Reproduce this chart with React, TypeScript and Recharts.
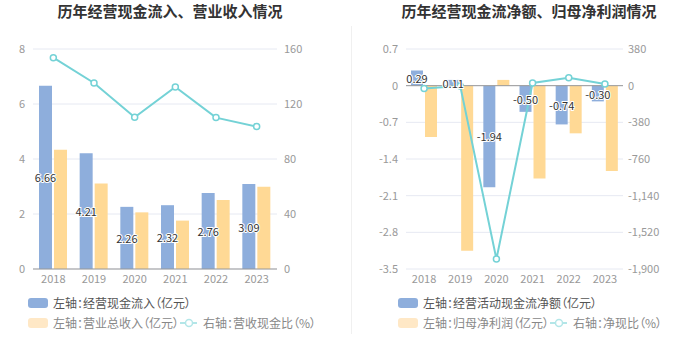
import React from "react";
import {
  ComposedChart,
  Bar,
  Line,
  XAxis,
  YAxis,
  CartesianGrid,
  ReferenceLine,
  LabelList,
} from "recharts";

const years = ["2018", "2019", "2020", "2021", "2022", "2023"];

// left chart
const cashInflow = [6.66, 4.21, 2.26, 2.32, 2.76, 3.09];
const revenue = [4.34, 3.11, 2.06, 1.76, 2.51, 2.99];
const cashRevenueRatio = [153.7, 135.3, 110.4, 132.4, 110.1, 103.6];

// right chart
const netCashFlow = [0.29, 0.11, -1.94, -0.5, -0.74, -0.3];
const netProfit = [-0.98, -3.15, 0.11, -1.77, -0.91, -1.63];
const netCashRatio = [-30, -3, -1797, 28, 81, 18];

const leftTicks = [0, 2, 4, 6, 8];
const leftRightTicks = [0, 40, 80, 120, 160];
const rightTicks = [-3.5, -2.8, -2.1, -1.4, -0.7, 0, 0.7];
const rightRightTicks = [-1900, -1520, -1140, -760, -380, 0, 380];

const BLUE = "#8eaedc";
const ORANGE = "#ffd995";
const TEAL = "#74d2d6";
const FONT = '"Noto Sans CJK SC", "Noto Sans", sans-serif';

const leftData = years.map((y, i) => ({
  year: y,
  inflow: cashInflow[i],
  revenue: revenue[i],
  ratio: cashRevenueRatio[i],
}));

const rightData = years.map((y, i) => ({
  year: y,
  net: netCashFlow[i],
  profit: netProfit[i],
  ratio: netCashRatio[i],
}));

const tickStyle = { fill: "#999", fontSize: 11, fontFamily: FONT };

function ValueLabel(props: any) {
  const { x, y, width, height, value } = props;
  return (
    <text
      x={x + width / 2}
      y={y + height / 2}
      textAnchor="middle"
      dominantBaseline="central"
      fill="#333"
      stroke="#fff"
      strokeWidth={2}
      paintOrder="stroke"
      fontSize={11}
      fontFamily={FONT}
    >
      {Number(value).toFixed(2)}
    </text>
  );
}

const dot = { r: 3, fill: "#fff", stroke: TEAL, strokeWidth: 1.5 };

function Title({ text, cx }: { text: string; cx: number }) {
  return (
    <div
      style={{
        position: "absolute",
        top: 2,
        left: cx - 150,
        width: 300,
        textAlign: "center",
        fontSize: 15,
        fontWeight: "bold",
        color: "#333",
        fontFamily: FONT,
        lineHeight: "18px",
      }}
    >
      {text}
    </div>
  );
}

const legendText = {
  position: "absolute" as const,
  fontSize: 12,
  lineHeight: "14px",
  fontFamily: FONT,
  fontFeatureSettings: '"palt"',
  whiteSpace: "nowrap" as const,
};

function Swatch({ x, y, color, label, textColor }: any) {
  return (
    <>
      <div
        style={{
          position: "absolute",
          left: x,
          top: y,
          width: 20,
          height: 10,
          borderRadius: 3,
          background: color,
        }}
      />
      <div style={{ ...legendText, left: x + 25, top: y - 2, color: textColor }}>
        {label}
      </div>
    </>
  );
}

function LineKey({ x, y, label }: any) {
  return (
    <>
      <svg
        style={{ position: "absolute", left: x, top: y - 5 }}
        width={18}
        height={10}
      >
        <line x1={0} y1={5} x2={17} y2={5} stroke="#b3e6e8" strokeWidth={2} />
        <circle cx={9} cy={5} r={3.5} fill="#fff" stroke="#b3e6e8" strokeWidth={1.5} />
      </svg>
      <div style={{ ...legendText, left: x + 23, top: y - 7, color: "#888" }}>
        {label}
      </div>
    </>
  );
}

export default function App() {
  return (
    <div
      style={{
        position: "absolute",
        left: 0,
        top: 0,
        width: 700,
        height: 360,
        background: "#fff",
        overflow: "hidden",
      }}
    >
      <Title text="历年经营现金流入、营业收入情况" cx={170} />
      <Title text="历年经营现金流净额、归母净利润情况" cx={529} />

      <div
        style={{
          position: "absolute",
          left: 351,
          top: 26,
          width: 1,
          height: 308,
          background: "#f0f0f0",
        }}
      />

      <div style={{ position: "absolute", left: 0, top: 0 }}>
        <ComposedChart
          width={350}
          height={290}
          data={leftData}
          margin={{ top: 49, right: 0, bottom: 0, left: 0 }}
          barGap={2}
        >
          <CartesianGrid vertical={false} stroke="#e6e9f2" yAxisId="left" />
          <XAxis
            dataKey="year"
            height={21}
            tickLine={false}
            axisLine={{ stroke: "#999" }}
            tick={tickStyle}
            tickSize={0}
            tickMargin={6}
          />
          <YAxis
            yAxisId="left"
            width={33}
            domain={[0, 8]}
            ticks={leftTicks}
            axisLine={false}
            tickLine={false}
            tickSize={0}
            tickMargin={8}
            tick={tickStyle}
          />
          <YAxis
            yAxisId="right"
            orientation="right"
            width={73}
            domain={[0, 160]}
            ticks={leftRightTicks}
            axisLine={false}
            tickLine={false}
            tickSize={0}
            tickMargin={7}
            tick={tickStyle}
          />
          <Bar
            yAxisId="left"
            dataKey="inflow"
            fill={BLUE}
            barSize={13}
            isAnimationActive={false}
          >
            <LabelList dataKey="inflow" content={ValueLabel} />
          </Bar>
          <Bar
            yAxisId="left"
            dataKey="revenue"
            fill={ORANGE}
            barSize={13}
            isAnimationActive={false}
          />
          <Line
            yAxisId="right"
            dataKey="ratio"
            stroke={TEAL}
            strokeWidth={2}
            dot={dot}
            isAnimationActive={false}
          />
        </ComposedChart>
      </div>

      <div style={{ position: "absolute", left: 352, top: 0 }}>
        <ComposedChart
          width={348}
          height={290}
          data={rightData}
          margin={{ top: 49, right: 0, bottom: 0, left: 0 }}
          barGap={2}
        >
          <CartesianGrid vertical={false} stroke="#e6e9f2" yAxisId="left" />
          <XAxis
            dataKey="year"
            height={21}
            tickLine={false}
            axisLine={false}
            tick={tickStyle}
            tickSize={0}
            tickMargin={6}
          />
          <YAxis
            yAxisId="left"
            width={54}
            domain={[-3.5, 0.7]}
            ticks={rightTicks}
            axisLine={false}
            tickLine={false}
            tickSize={0}
            tickMargin={8}
            tick={tickStyle}
          />
          <YAxis
            yAxisId="right"
            orientation="right"
            width={77}
            domain={[-1900, 380]}
            ticks={rightRightTicks}
            axisLine={false}
            tickLine={false}
            tickSize={0}
            tickMargin={5}
            tick={tickStyle}
            tickFormatter={(v: number) => v.toLocaleString("en-US")}
          />
          <ReferenceLine yAxisId="left" y={0} stroke="#999" />
          <Bar
            yAxisId="left"
            dataKey="net"
            fill={BLUE}
            barSize={12}
            isAnimationActive={false}
          >
            <LabelList dataKey="net" content={ValueLabel} />
          </Bar>
          <Bar
            yAxisId="left"
            dataKey="profit"
            fill={ORANGE}
            barSize={12}
            isAnimationActive={false}
          />
          <Line
            yAxisId="right"
            dataKey="ratio"
            stroke={TEAL}
            strokeWidth={2}
            dot={dot}
            isAnimationActive={false}
          />
        </ComposedChart>
      </div>

      <Swatch x={28} y={298} color={BLUE} label="左轴：经营现金流入（亿元）" textColor="#555" />
      <Swatch x={28} y={318} color="#ffe8c6" label="左轴：营业总收入（亿元）" textColor="#888" />
      <LineKey x={180} y={323} label="右轴：营收现金比（%）" />

      <Swatch x={398} y={298} color={BLUE} label="左轴：经营活动现金流净额（亿元）" textColor="#555" />
      <Swatch x={398} y={318} color="#ffe8c6" label="左轴：归母净利润（亿元）" textColor="#888" />
      <LineKey x={550} y={323} label="右轴：净现比（%）" />
    </div>
  );
}
